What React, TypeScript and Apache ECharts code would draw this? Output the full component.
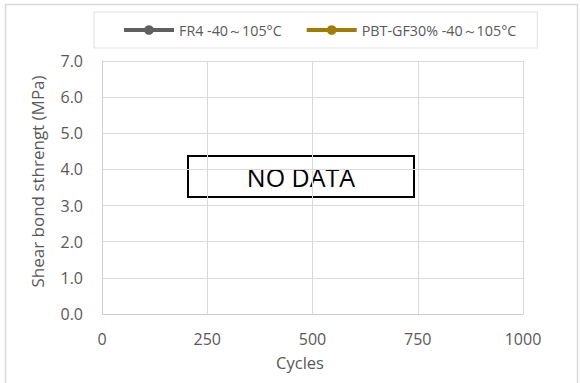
import React, { useEffect, useRef } from "react";
import * as echarts from "echarts";

const seriesNames = ["FR4 -40～105°C", "PBT-GF30% -40～105°C"];
const seriesColors = ["#606060", "#a07c00"];
const fr4Data: number[][] = [];
const pbtData: number[][] = [];
const xTicks = [0, 250, 500, 750, 1000];
const yTicks = [0, 1, 2, 3, 4, 5, 6, 7];
const xTitle = "Cycles";
const yTitle = "Shear bond sthrengt (MPa)";
const noDataText = "NO DATA";

const FONT = "'Open Sans', 'Noto Sans', sans-serif";

export default function App() {
  const ref = useRef<HTMLDivElement>(null);
  useEffect(() => {
    if (!ref.current) return;
    const chart = echarts.init(ref.current, null, { renderer: "svg" });
    chart.setOption({
      animation: false,
      backgroundColor: "#ffffff",
      textStyle: { fontFamily: FONT },
      legend: {
        left: 94,
        top: 12,
        padding: [11, 21, 11, 28],
        borderColor: "#e0e0e0",
        borderWidth: 1,
        itemWidth: 50,
        itemHeight: 12,
        itemGap: 23,
        lineStyle: { width: 4 },
        textStyle: { color: "#595959", fontSize: 14.3, fontFamily: FONT },
        data: seriesNames,
      },
      grid: { left: 102, right: 57, top: 61, bottom: 69 },
      xAxis: {
        type: "value",
        min: xTicks[0],
        max: xTicks[xTicks.length - 1],
        interval: xTicks[1] - xTicks[0],
        name: xTitle,
        nameLocation: "middle",
        nameGap: 40,
        nameTextStyle: { color: "#595959", fontSize: 16.5, padding: [0, 25, 0, 0] },
        axisLine: { show: true, lineStyle: { color: "#d0d0d0", width: 1 } },
        axisTick: { show: false },
        axisLabel: {
          color: "#595959",
          fontSize: 16,
          margin: 17,
          formatter: (v: number) => String(v),
        },
        splitLine: { show: true, lineStyle: { color: "#d9d9d9", width: 1 } },
      },
      yAxis: {
        type: "value",
        min: yTicks[0],
        max: yTicks[yTicks.length - 1],
        interval: yTicks[1] - yTicks[0],
        name: yTitle,
        nameLocation: "middle",
        nameGap: 56,
        nameTextStyle: { color: "#595959", fontSize: 17, padding: [0, 0, 0, 12] },
        axisLine: { show: true, lineStyle: { color: "#d0d0d0", width: 1 } },
        axisTick: { show: false },
        axisLabel: {
          color: "#595959",
          fontSize: 16,
          margin: 19,
          formatter: (v: number) => v.toFixed(1),
        },
        splitLine: { show: true, lineStyle: { color: "#d9d9d9", width: 1 } },
      },
      series: [
        {
          name: seriesNames[0],
          type: "line",
          data: fr4Data,
          color: seriesColors[0],
          symbol: "circle",
          symbolSize: 10,
          lineStyle: { width: 4, color: seriesColors[0] },
          itemStyle: { color: seriesColors[0] },
        },
        {
          name: seriesNames[1],
          type: "line",
          data: pbtData,
          color: seriesColors[1],
          symbol: "circle",
          symbolSize: 10,
          lineStyle: { width: 4, color: seriesColors[1] },
          itemStyle: { color: seriesColors[1] },
        },
      ],
      graphic: [
        {
          type: "rect",
          left: 3,
          top: 2,
          shape: { width: 572, height: 390 },
          style: { fill: "none", stroke: "#d9d9d9", lineWidth: 1.5 },
          silent: true,
          z: -1,
        },
        {
          type: "group",
          left: 187,
          top: 155,
          children: [
            {
              type: "rect",
              shape: { x: 0, y: 0, width: 226, height: 41 },
              style: { fill: "#ffffff", stroke: "#000000", lineWidth: 2 },
            },
            {
              type: "text",
              x: 113,
              y: 21,
              style: {
                text: noDataText,
                fill: "#000000",
                fontSize: 25,
                fontFamily: FONT,
                align: "center",
                verticalAlign: "middle",
              },
            },
          ],
          z: 100,
        },
      ],
    });
    return () => chart.dispose();
  }, []);
  return (
    <div
      ref={ref}
      style={{ width: 580, height: 383, position: "absolute", left: 0, top: 0 }}
    />
  );
}
